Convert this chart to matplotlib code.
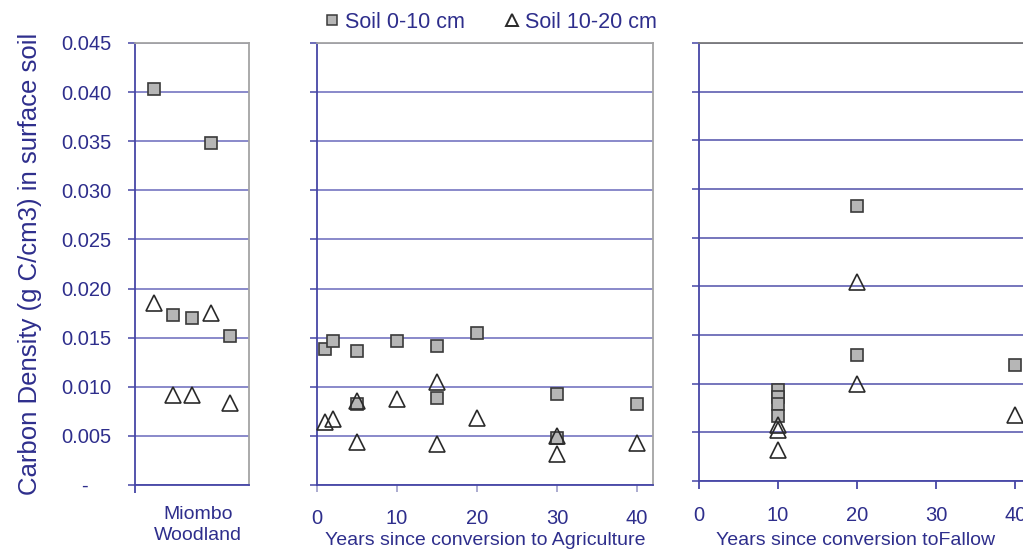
import numpy as np
import matplotlib
matplotlib.use('Agg')
from matplotlib import pyplot as plt
from matplotlib.lines import Line2D
from matplotlib.ticker import FuncFormatter

plt.rcParams['font.family'] = ['Liberation Sans', 'DejaVu Sans']

# Miombo woodland plots, one column per site
woodland_site = [1, 2, 3, 4, 5]
woodland_0_10 = [0.0403, 0.0173, 0.0170, 0.0348, 0.0152]
woodland_10_20 = [0.0185, 0.0092, 0.0092, 0.0175, 0.0083]

# fields, by years since conversion to agriculture
agri_years_0_10 = [1, 2, 5, 5, 10, 15, 15, 20, 30, 30, 40]
agri_0_10 = [0.0138, 0.0147, 0.0136, 0.0082, 0.0147, 0.0142, 0.0089, 0.0155, 0.0093, 0.0048, 0.0082]
agri_years_10_20 = [1, 2, 5, 5, 10, 15, 15, 20, 30, 30, 40]
agri_10_20 = [0.0064, 0.0067, 0.0086, 0.0044, 0.0088, 0.0105, 0.0042, 0.0068, 0.0050, 0.0032, 0.0043]

# fallows, by years since conversion to fallow
fallow_years_0_10 = [10, 10, 10, 10, 20, 20, 40]
fallow_0_10 = [0.0093, 0.0086, 0.0079, 0.0067, 0.0283, 0.0129, 0.0119]
fallow_years_10_20 = [10, 10, 10, 20, 20, 40]
fallow_10_20 = [0.0058, 0.0052, 0.0032, 0.0204, 0.0100, 0.0068]

year_ticks = [0, 10, 20, 30, 40]
y_ticks = np.arange(0, 0.0451, 0.005)

TEXT = '#2e2e8c'
AXIS = '#4646a6'
GRID = '#6a6abc'
FRAME = '#a4a4a4'
SQ_FILL = '#b6b6b6'
SQ_EDGE = '#3a3a3a'
TRI_EDGE = '#2a2a2a'

W, H = 1023, 552
fig = plt.figure(figsize=(W / 100, H / 100), dpi=100)
ax1 = fig.add_axes([135 / W, 67 / H, 114 / W, 442 / H])
ax2 = fig.add_axes([317 / W, 67 / H, 336 / W, 442 / H])
ax3 = fig.add_axes([699 / W, 71 / H, 332 / W, 438 / H])


def style(ax, top_color=FRAME, grid_color=GRID):
    ax.set_ylim(0, 0.045)
    ax.set_yticks(y_ticks)
    ax.grid(axis='y', color=grid_color, lw=1.1)
    ax.set_axisbelow(True)
    for side in ('left', 'bottom'):
        ax.spines[side].set_color(AXIS)
        ax.spines[side].set_linewidth(1.3)
    ax.spines['top'].set_color(top_color)
    ax.spines['right'].set_color(FRAME)
    ax.spines['top'].set_linewidth(1.3)
    ax.spines['right'].set_linewidth(1.3)
    ax.tick_params(axis='y', direction='out', length=5, width=1.1, color=AXIS,
                   labelleft=False)


def scatter(ax, x0, y0, x1, y1):
    ax.plot(x0, y0, ls='none', marker='s', ms=9, mfc=SQ_FILL, mec=SQ_EDGE,
            mew=1.2, clip_on=False, zorder=3)
    ax.plot(x1, y1, ls='none', marker='^', ms=12, mfc='none', mec=TRI_EDGE,
            mew=1.2, clip_on=False, zorder=4)


# woodland panel
style(ax1)
ax1.set_xlim(0, 6)
scatter(ax1, woodland_site, woodland_0_10, woodland_site, woodland_10_20)
ax1.tick_params(axis='y', labelleft=True, labelsize=14.5, labelcolor=TEXT, pad=12)
ax1.yaxis.set_major_formatter(
    FuncFormatter(lambda v, p: '-    ' if abs(v) < 1e-9 else f'{v:.3f}'))
ax1.set_xticks([3.3])
ax1.set_xticklabels(['Miombo\nWoodland'], linespacing=1.3)
ax1.set_xticks([0], minor=True)
ax1.tick_params(axis='x', which='major', length=0, pad=15, labelsize=14,
                labelcolor=TEXT)
ax1.tick_params(axis='x', which='minor', length=6, width=1.3, color=AXIS)
ax1.set_ylabel('Carbon Density (g C/cm3) in surface soil', fontsize=18.5,
               color=TEXT, labelpad=14)

# agriculture panel
style(ax2)
ax2.set_xlim(0, 42)
scatter(ax2, agri_years_0_10, agri_0_10, agri_years_10_20, agri_10_20)
ax2.set_xticks(year_ticks)
ax2.tick_params(axis='x', length=5, width=1.1, color='#9494c4', pad=12,
                labelsize=14.5, labelcolor=TEXT)
ax2.set_xlabel('Years since conversion to Agriculture', fontsize=14,
               color=TEXT, labelpad=3.5)

# fallow panel
style(ax3, top_color='#7a7a7a', grid_color='#5050aa')
ax3.set_xlim(0, 42)
scatter(ax3, fallow_years_0_10, fallow_0_10, fallow_years_10_20, fallow_10_20)
ax3.set_xticks(year_ticks)
ax3.tick_params(axis='x', length=6, width=1.3, color=AXIS, pad=12,
                labelsize=14.5, labelcolor=TEXT)
ax3.set_xlabel('Years since conversion toFallow', fontsize=14, color=TEXT)
ax3.xaxis.set_label_coords(157 / 332, -0.117)

handles = [
    Line2D([], [], ls='none', marker='s', ms=7, mfc=SQ_FILL, mec=SQ_EDGE, mew=1.1),
    Line2D([], [], ls='none', marker='^', ms=8, mfc='none', mec=TRI_EDGE, mew=1.4),
]
leg = fig.legend(handles, ['Soil 0-10 cm', 'Soil 10-20 cm'], loc='center',
                 bbox_to_anchor=(491 / W, 1 - 22 / H), ncol=2, frameon=False,
                 fontsize=15.5, handlelength=0.6, handletextpad=0.3,
                 columnspacing=1.9)
for t in leg.get_texts():
    t.set_color(TEXT)

fig.savefig('out.png', dpi=100)
